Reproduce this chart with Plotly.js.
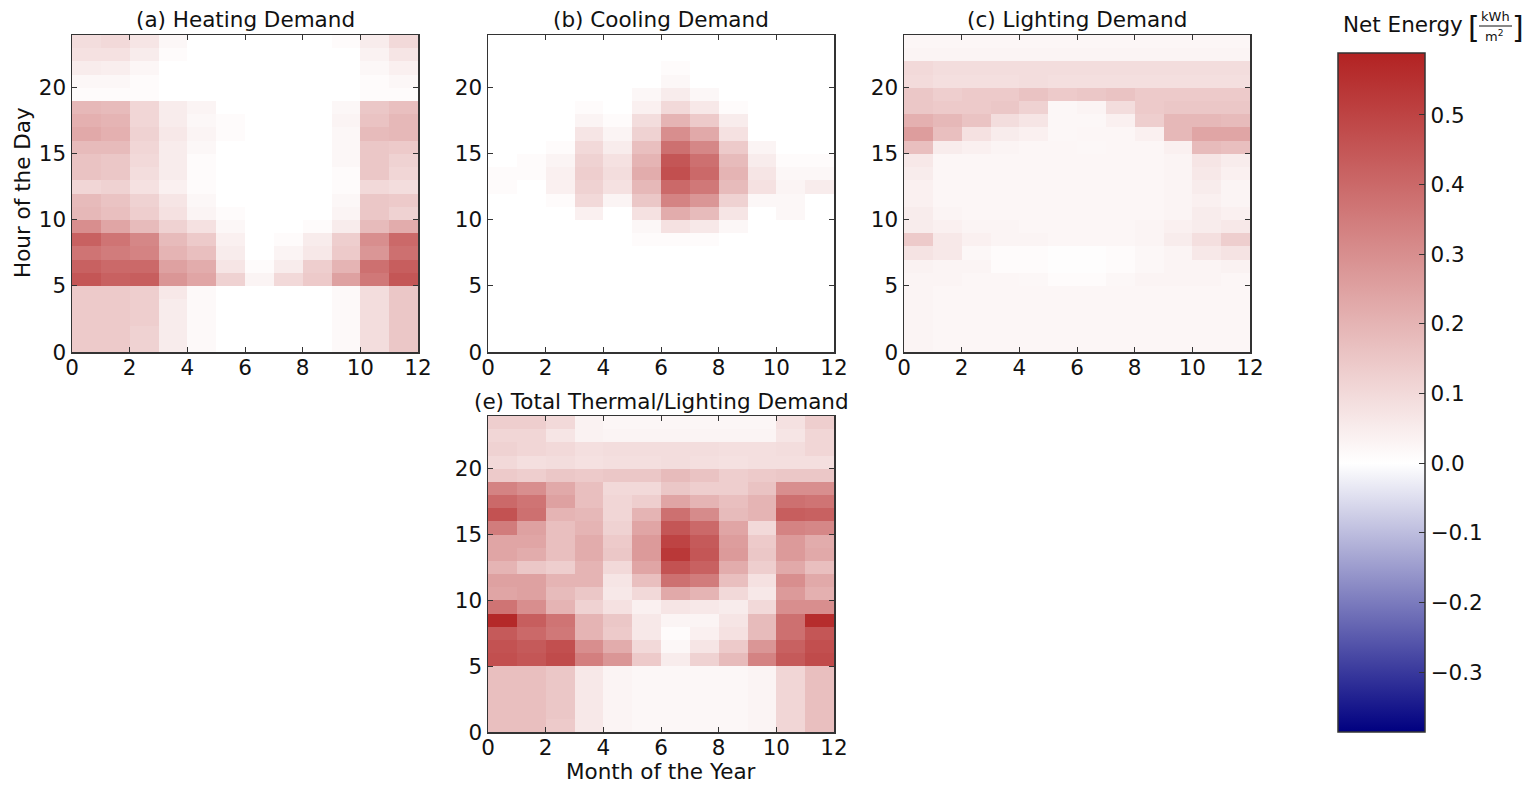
<!DOCTYPE html>
<html><head><meta charset="utf-8">
<script src="https://cdn.plot.ly/plotly-3.0.1.min.js"></script>
<style>html,body{margin:0;padding:0;background:#fff;}#chart{width:1528px;height:785px;}</style>
</head><body><div id="chart"></div>
<script>
// bin edges (month of year, hour of day)
const monthEdges = [0,1,2,3,4,5,6,7,8,9,10,11,12];
const hourEdges = [0,1,2,3,4,5,6,7,8,9,10,11,12,13,14,15,16,17,18,19,20,21,22,23,24];

// rows = hours 0..23, columns = months 0..11  (kWh/m2)
const heating = [
 [0.14,0.14,0.12,0.05,0.015,0,0,0,0,0.015,0.09,0.15],
 [0.14,0.14,0.12,0.05,0.015,0,0,0,0,0.015,0.09,0.15],
 [0.14,0.14,0.13,0.05,0.015,0,0,0,0,0.015,0.09,0.15],
 [0.14,0.14,0.13,0.05,0.015,0,0,0,0,0.015,0.09,0.15],
 [0.14,0.14,0.13,0.06,0.015,0,0,0,0,0.015,0.09,0.15],
 [0.45,0.42,0.43,0.28,0.24,0.12,0.03,0.10,0.14,0.25,0.36,0.45],
 [0.42,0.40,0.40,0.25,0.22,0.07,0.01,0.05,0.13,0.20,0.38,0.43],
 [0.37,0.35,0.33,0.20,0.17,0.05,0,0.03,0.06,0.14,0.28,0.38],
 [0.42,0.37,0.32,0.18,0.14,0.04,0,0.01,0.05,0.13,0.30,0.40],
 [0.30,0.24,0.18,0.12,0.08,0.02,0,0,0.01,0.05,0.18,0.22],
 [0.19,0.17,0.13,0.08,0.03,0.01,0,0,0,0.03,0.15,0.12],
 [0.18,0.16,0.12,0.07,0.02,0,0,0,0,0.02,0.15,0.14],
 [0.11,0.12,0.08,0.04,0.01,0,0,0,0,0.01,0.10,0.09],
 [0.16,0.15,0.09,0.05,0.01,0,0,0,0,0.01,0.15,0.11],
 [0.16,0.15,0.10,0.05,0.01,0,0,0,0,0.02,0.15,0.12],
 [0.18,0.18,0.11,0.05,0.02,0,0,0,0,0.02,0.15,0.14],
 [0.23,0.21,0.12,0.06,0.03,0.01,0,0,0,0.02,0.18,0.19],
 [0.21,0.20,0.11,0.05,0.02,0.01,0,0,0,0.03,0.16,0.19],
 [0.19,0.18,0.11,0.05,0.03,0,0,0,0,0.02,0.15,0.17],
 [0.01,0.01,0.01,0,0,0,0,0,0,0,0.01,0.01],
 [0.02,0.02,0.01,0,0,0,0,0,0,0,0.01,0.02],
 [0.05,0.045,0.025,0,0,0,0,0,0,0,0.02,0.04],
 [0.08,0.08,0.05,0.01,0,0,0,0,0,0,0.035,0.07],
 [0.09,0.10,0.07,0.02,0,0,0,0,0,0.01,0.05,0.10]
];

const cooling = [
 [0,0,0,0,0,0,0,0,0,0,0,0],
 [0,0,0,0,0,0,0,0,0,0,0,0],
 [0,0,0,0,0,0,0,0,0,0,0,0],
 [0,0,0,0,0,0,0,0,0,0,0,0],
 [0,0,0,0,0,0,0,0,0,0,0,0],
 [0,0,0,0,0,0,0,0,0,0,0,0],
 [0,0,0,0,0,0,0,0,0,0,0,0],
 [0,0,0,0,0,0,0,0,0,0,0,0],
 [0,0,0,0,0,0.01,0.01,0.01,0,0,0,0],
 [0,0,0,0,0,0.02,0.08,0.06,0.02,0,0,0],
 [0,0,0,0.04,0,0.08,0.22,0.18,0.07,0,0.02,0],
 [0,0,0.01,0.10,0.03,0.15,0.33,0.28,0.12,0.02,0.02,0],
 [0.01,0,0.04,0.12,0.08,0.19,0.40,0.36,0.18,0.08,0.03,0.05],
 [0.01,0.01,0.04,0.13,0.09,0.22,0.47,0.40,0.20,0.07,0.02,0.02],
 [0,0.01,0.03,0.12,0.08,0.20,0.45,0.38,0.18,0.05,0.01,0.01],
 [0,0,0.01,0.10,0.05,0.17,0.38,0.32,0.14,0.03,0,0],
 [0,0,0,0.07,0.03,0.12,0.30,0.23,0.08,0,0,0],
 [0,0,0,0.03,0.01,0.09,0.20,0.14,0.05,0,0,0],
 [0,0,0,0.01,0,0.04,0.10,0.06,0.01,0,0,0],
 [0,0,0,0,0,0.02,0.05,0.02,0,0,0,0],
 [0,0,0,0,0,0,0.02,0,0,0,0,0],
 [0,0,0,0,0,0,0.01,0,0,0,0,0],
 [0,0,0,0,0,0,0,0,0,0,0,0],
 [0,0,0,0,0,0,0,0,0,0,0,0]
];

const lighting = [
 [0.03,0.025,0.025,0.025,0.025,0.025,0.025,0.025,0.025,0.025,0.025,0.025],
 [0.03,0.025,0.025,0.025,0.025,0.025,0.025,0.025,0.025,0.025,0.025,0.025],
 [0.03,0.025,0.025,0.025,0.025,0.025,0.025,0.025,0.025,0.025,0.025,0.025],
 [0.03,0.025,0.025,0.025,0.025,0.025,0.025,0.025,0.025,0.025,0.025,0.025],
 [0.03,0.025,0.025,0.025,0.025,0.025,0.025,0.025,0.025,0.025,0.025,0.025],
 [0.03,0.03,0.025,0.025,0.02,0.01,0.01,0.02,0.03,0.03,0.03,0.025],
 [0.035,0.03,0.03,0.01,0.01,0.006,0.006,0.01,0.02,0.03,0.03,0.035],
 [0.075,0.06,0.02,0.01,0.01,0.006,0.006,0.01,0.02,0.03,0.06,0.075],
 [0.14,0.06,0.04,0.03,0.03,0.025,0.025,0.025,0.03,0.05,0.085,0.13],
 [0.05,0.04,0.03,0.03,0.025,0.025,0.025,0.025,0.03,0.04,0.05,0.06],
 [0.05,0.03,0.025,0.025,0.025,0.025,0.025,0.025,0.025,0.03,0.05,0.04],
 [0.04,0.025,0.025,0.025,0.025,0.025,0.025,0.025,0.025,0.03,0.04,0.03],
 [0.04,0.025,0.025,0.025,0.025,0.025,0.025,0.025,0.025,0.03,0.05,0.03],
 [0.05,0.025,0.025,0.025,0.025,0.025,0.025,0.025,0.025,0.03,0.06,0.04],
 [0.06,0.025,0.025,0.025,0.025,0.025,0.025,0.025,0.025,0.03,0.07,0.05],
 [0.17,0.05,0.04,0.03,0.025,0.025,0.02,0.025,0.025,0.04,0.18,0.17],
 [0.26,0.17,0.08,0.05,0.04,0.02,0.025,0.025,0.04,0.19,0.24,0.24],
 [0.21,0.19,0.16,0.09,0.07,0.02,0.02,0.04,0.13,0.19,0.19,0.18],
 [0.15,0.14,0.14,0.15,0.12,0.02,0.03,0.09,0.14,0.15,0.15,0.15],
 [0.15,0.13,0.14,0.14,0.16,0.14,0.15,0.16,0.14,0.14,0.14,0.14],
 [0.095,0.085,0.085,0.085,0.09,0.085,0.085,0.085,0.085,0.085,0.085,0.085],
 [0.10,0.09,0.09,0.09,0.09,0.09,0.09,0.09,0.09,0.09,0.09,0.09],
 [0.03,0.03,0.03,0.03,0.03,0.03,0.03,0.03,0.03,0.03,0.03,0.03],
 [0.025,0.025,0.025,0.025,0.025,0.025,0.025,0.025,0.025,0.025,0.025,0.025]
];

const total = [
 [0.17,0.17,0.14,0.06,0.03,0.02,0.02,0.02,0.02,0.03,0.11,0.17],
 [0.17,0.17,0.15,0.06,0.03,0.02,0.02,0.02,0.02,0.03,0.11,0.17],
 [0.17,0.17,0.15,0.06,0.03,0.02,0.02,0.02,0.02,0.03,0.11,0.17],
 [0.17,0.17,0.15,0.06,0.03,0.02,0.02,0.02,0.02,0.03,0.11,0.17],
 [0.17,0.17,0.15,0.06,0.03,0.02,0.02,0.02,0.02,0.03,0.11,0.17],
 [0.47,0.45,0.48,0.34,0.28,0.14,0.05,0.12,0.18,0.33,0.44,0.48],
 [0.46,0.44,0.47,0.30,0.22,0.10,0.02,0.07,0.14,0.28,0.42,0.47],
 [0.44,0.40,0.36,0.20,0.14,0.06,0.01,0.04,0.08,0.18,0.38,0.45],
 [0.57,0.43,0.37,0.20,0.15,0.06,0.03,0.03,0.07,0.18,0.38,0.56],
 [0.37,0.30,0.20,0.12,0.08,0.04,0.07,0.06,0.05,0.10,0.30,0.30],
 [0.24,0.25,0.18,0.15,0.06,0.10,0.23,0.20,0.10,0.06,0.27,0.21],
 [0.25,0.25,0.20,0.20,0.07,0.17,0.38,0.35,0.17,0.08,0.30,0.23],
 [0.20,0.15,0.13,0.20,0.10,0.24,0.46,0.42,0.22,0.13,0.23,0.17],
 [0.24,0.22,0.17,0.22,0.15,0.27,0.53,0.45,0.27,0.15,0.27,0.23],
 [0.24,0.24,0.17,0.22,0.14,0.27,0.50,0.44,0.26,0.14,0.27,0.22],
 [0.35,0.25,0.17,0.20,0.12,0.24,0.45,0.40,0.24,0.10,0.33,0.32],
 [0.46,0.38,0.20,0.19,0.11,0.20,0.38,0.31,0.18,0.20,0.43,0.42],
 [0.40,0.37,0.25,0.17,0.11,0.13,0.24,0.20,0.17,0.20,0.38,0.37],
 [0.33,0.30,0.23,0.17,0.10,0.10,0.15,0.13,0.13,0.16,0.30,0.30],
 [0.14,0.13,0.15,0.14,0.15,0.15,0.18,0.16,0.13,0.14,0.15,0.15],
 [0.10,0.085,0.09,0.08,0.085,0.085,0.09,0.085,0.08,0.085,0.085,0.085],
 [0.12,0.11,0.10,0.085,0.09,0.09,0.09,0.09,0.085,0.085,0.09,0.11],
 [0.11,0.11,0.07,0.035,0.03,0.03,0.03,0.03,0.03,0.03,0.07,0.11],
 [0.13,0.13,0.10,0.035,0.025,0.025,0.025,0.025,0.025,0.025,0.08,0.13]
];

const panelTitles = ['(a) Heating Demand','(b) Cooling Demand','(c) Lighting Demand','(e) Total Thermal/Lighting Demand'];
const xAxisTitle = 'Month of the Year';
const yAxisTitle = 'Hour of the Day';
const cbTickVals = [-0.3,-0.2,-0.1,0.0,0.1,0.2,0.3,0.4,0.5];
const cbTickText = ['\u22120.3','\u22120.2','\u22120.1','0.0','0.1','0.2','0.3','0.4','0.5'];
const zMin = -0.386, zMax = 0.589;

const W = 1528, H = 785;
const FONT = 'DejaVu Sans, sans-serif';
const FS = 21.5;
const px = v => v / W;
const py = v => 1 - v / H;

function hm(z, n) {
  return {type:'heatmap', x: monthEdges, y: hourEdges, z: z, coloraxis:'coloraxis',
    xaxis: n === 1 ? 'x' : 'x' + n, yaxis: n === 1 ? 'y' : 'y' + n,
    zsmooth:false, hoverongaps:false};
}
const data = [hm(heating,1), hm(cooling,2), hm(lighting,3), hm(total,4)];

function common() {
  return {ticks:'inside', ticklen:5, tickwidth:1, tickcolor:'#333', showline:true, linecolor:'#333',
    linewidth:1.5, mirror:'ticks', showgrid:false, zeroline:false,
    tickfont:{family:FONT, size:FS, color:'#111'}};
}
function xax(l, r, anchor, extra) {
  return Object.assign(common(), {domain:[px(l), px(r)], range:[0,12], tick0:0, dtick:2, anchor:anchor}, extra || {});
}
function yax(t, b, anchor, extra) {
  return Object.assign(common(), {domain:[py(b), py(t)], range:[0,24], tick0:0, dtick:5, anchor:anchor}, extra || {});
}

const ann = [];
function A(text, x, y, size, extra) {
  ann.push(Object.assign({text:text, xref:'paper', yref:'paper', x:px(x), y:py(y),
    xanchor:'center', yanchor:'middle', showarrow:false, borderpad:0,
    font:{family:FONT, size:size, color:'#111'}}, extra || {}));
}
A(panelTitles[0], 245, 20, FS);
A(panelTitles[1], 661, 20, FS);
A(panelTitles[2], 1077, 20, FS);
A(panelTitles[3], 661, 401, FS);
A(yAxisTitle, 23, 193, FS, {textangle:-90});
A(xAxisTitle, 661, 771, FS);
A('Net Energy', 1403, 25, FS);
A('[', 1474, 28, 30);
A('kWh', 1495, 17, 13);
A('m<sup>2</sup>', 1494, 36, 13);
A(']', 1518, 28, 30);

const layout = {
  width: W, height: H, autosize:false,
  margin:{l:0, r:0, t:0, b:0, pad:0},
  paper_bgcolor:'#fff', plot_bgcolor:'#fff',
  font:{family:FONT, size:FS, color:'#111'},
  showlegend:false,
  xaxis: xax(72, 418, 'y', {ticklabelstandoff:-4}),
  yaxis: yax(35, 352, 'x'),
  xaxis2: xax(488, 834, 'y2', {ticklabelstandoff:-4}),
  yaxis2: yax(35, 352, 'x2'),
  xaxis3: xax(904, 1250, 'y3', {ticklabelstandoff:-4}),
  yaxis3: yax(35, 352, 'x3'),
  xaxis4: xax(488, 834, 'y4', {ticklabelstandoff:-4}),
  yaxis4: yax(416, 732, 'x4'),
  coloraxis: {
    cmin: zMin, cmax: zMax,
    colorscale: [[0,'rgb(0,0,128)'],[(-zMin)/(zMax-zMin),'rgb(255,255,255)'],[1,'rgb(178,34,34)']],
    colorbar: {
      x: px(1338), xanchor:'left', xref:'paper',
      y: py(732), yanchor:'bottom', yref:'paper',
      len: (732-53)/H, lenmode:'fraction',
      thickness: 87, thicknessmode:'pixels',
      xpad:0, ypad:0,
      outlinewidth:1.5, outlinecolor:'#333', borderwidth:0,
      tickmode:'array', tickvals: cbTickVals, ticktext: cbTickText,
      ticks:'inside', ticklen:6, tickwidth:1, tickcolor:'#333',
      tickfont:{family:FONT, size:FS, color:'#111'}
    }
  },
  annotations: ann,
  shapes: [
    {type:'line', xref:'paper', yref:'paper', x0:px(1479), x1:px(1512), y0:py(26), y1:py(26),
     line:{color:'#111', width:1}}
  ]
};

Plotly.newPlot('chart', data, layout, {displayModeBar:false, staticPlot:true});
</script>
</body></html>
